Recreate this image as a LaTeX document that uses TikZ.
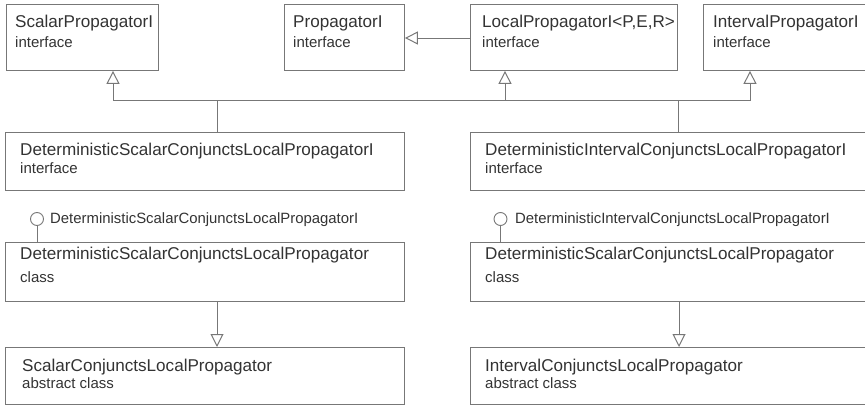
\documentclass[tikz,border=0pt]{standalone}
\usepackage{fontspec}
\setmainfont{Liberation Sans}
\usetikzlibrary{arrows.meta,calc}
\definecolor{linegray}{HTML}{777777}
\definecolor{textgray}{HTML}{333333}
\tikzset{
  umlbox/.style={draw=linegray, line width=0.9pt, rectangle, inner sep=0pt, anchor=north west},
  ttl/.style={anchor=base west, inner sep=0pt, text=textgray, font=\fontsize{17.1}{19}\selectfont},
  sub/.style={anchor=base west, inner sep=0pt, text=textgray, font=\fontsize{15}{17}\selectfont},
  lolly/.style={anchor=base west, inner sep=0pt, text=textgray, font=\fontsize{14.9}{16}\selectfont},
  gen/.style={draw=linegray, line width=0.9pt, -{Triangle[open, length=13pt, width=13pt, line width=1pt]}},
  conn/.style={draw=linegray, line width=0.9pt},
  ball/.style={circle, draw=linegray, line width=0.9pt, minimum size=13pt, inner sep=0pt},
}
\begin{document}
\begin{tikzpicture}[x=1pt,y=-1pt]
\useasboundingbox (0,0) rectangle (865,406);
\clip (0,0) rectangle (865,406);
% row 1
\node[umlbox, minimum width=152pt, minimum height=66pt] (sp) at (6,4) {};
\node[umlbox, minimum width=120pt, minimum height=66pt] (pp) at (284,4) {};
\node[umlbox, minimum width=207pt, minimum height=66pt] (lp) at (470,4) {};
\node[umlbox, minimum width=170pt, minimum height=66pt] (ip) at (703,4) {};
\node[ttl] (spt) at (15,28) {ScalarPropagatorI};
\node[sub] (sps) at (15,48) {interface};
\node[ttl] (ppt) at (293,28) {PropagatorI};
\node[sub] (pps) at (293,48) {interface};
\node[ttl] (lpt) at (482,28) {LocalPropagatorI<P,E,R>};
\node[sub] (lps) at (482,48) {interface};
\node[ttl] (ipt) at (713,28) {IntervalPropagatorI};
\node[sub] (ips) at (713,48) {interface};
% row 2
\node[umlbox, minimum width=399pt, minimum height=58pt] (dl) at (5,132) {};
\node[umlbox, minimum width=400pt, minimum height=58pt] (dr) at (470,132) {};
\node[ttl] (dlt) at (20,156) {DeterministicScalarConjunctsLocalPropagatorI};
\node[sub] (dls) at (20,174) {interface};
\node[ttl] (drt) at (485,156) {DeterministicIntervalConjunctsLocalPropagatorI};
\node[sub] (drs) at (485,174) {interface};
% lollipops
\node[ball] (bl) at (37,219) {};
\node[lolly] (blt) at (50,224) {DeterministicScalarConjunctsLocalPropagatorI};
\node[ball] (br) at (500.5,219) {};
\node[lolly] (brt) at (515,224) {DeterministicIntervalConjunctsLocalPropagatorI};
% row 3
\node[umlbox, minimum width=399pt, minimum height=59pt] (cl) at (5,242) {};
\node[umlbox, minimum width=400pt, minimum height=59pt] (cr) at (470,242) {};
\node[ttl] (clt) at (20,260) {DeterministicScalarConjunctsLocalPropagator};
\node[sub] (cls) at (20,283) {class};
\node[ttl] (crt) at (485,260) {DeterministicScalarConjunctsLocalPropagator};
\node[sub] (crs) at (485,283) {class};
% row 4
\node[umlbox, minimum width=399pt, minimum height=57pt] (al) at (5,347) {};
\node[umlbox, minimum width=400pt, minimum height=57pt] (ar) at (470,347) {};
\node[ttl] (alt) at (22,371) {ScalarConjunctsLocalPropagator};
\node[sub] (als) at (22,388) {abstract class};
\node[ttl] (art) at (485,371) {IntervalConjunctsLocalPropagator};
\node[sub] (ars) at (485,388) {abstract class};
% connectors
\coordinate (busL) at ($(dl.north west)+(212,-32)$);
\coordinate (busR) at ($(dr.north west)+(208,-32)$);
\draw[conn] ($(dl.north west)+(212,0)$) -- (busL);
\draw[conn] ($(dr.north west)+(208,0)$) -- (busR);
\draw[gen] (busL) -| ($(sp.south west)+(107,0)$);
\draw[conn] (busL) -- (busR);
\draw[gen] (busR) -| ($(ip.south west)+(47,0)$);
\draw[gen] (busL) -| ($(lp.south west)+(35,0)$);
\draw[gen] (lp.west |- 0,38) -- (pp.east |- 0,38);
\draw[conn] (bl.south) -- (bl.south |- cl.north);
\draw[conn] (br.south) -- (br.south |- cr.north);
\draw[gen] ($(cl.south west)+(212,0)$) -- ($(al.north west)+(212,0)$);
\draw[gen] ($(cr.south west)+(209,0)$) -- ($(ar.north west)+(209,0)$);
\end{tikzpicture}
\end{document}
